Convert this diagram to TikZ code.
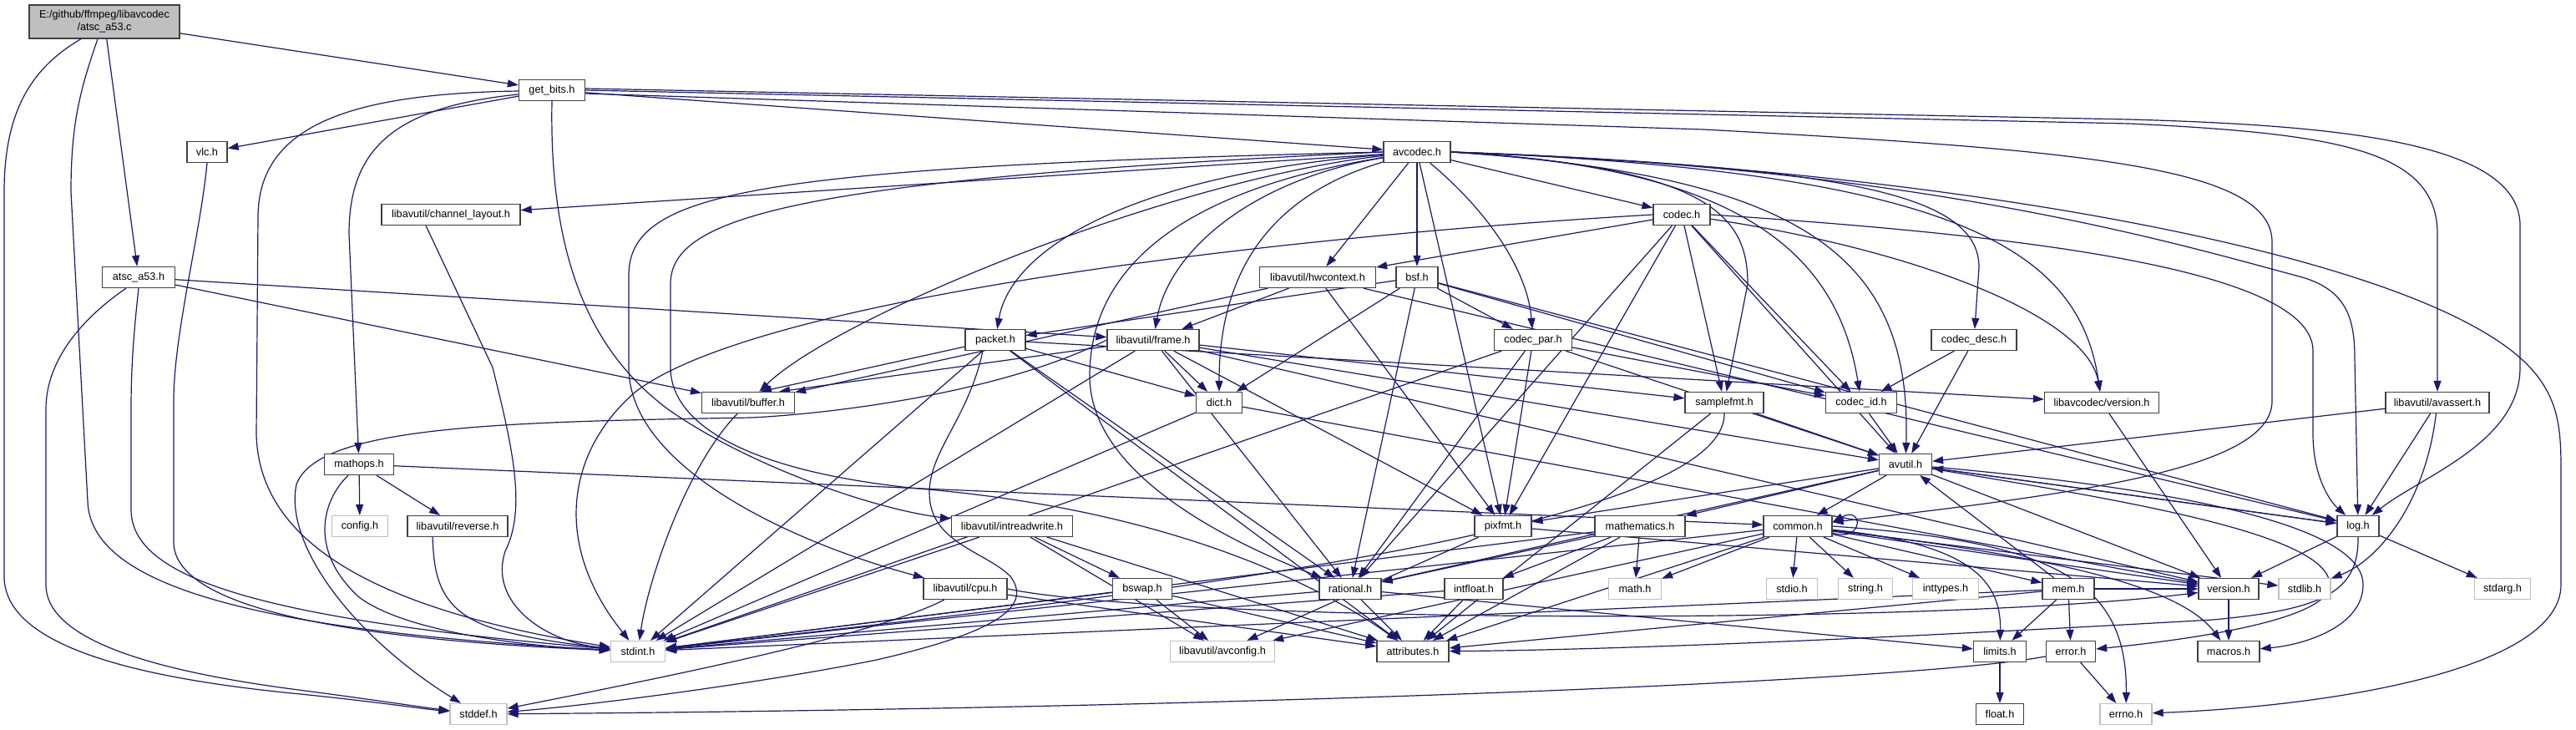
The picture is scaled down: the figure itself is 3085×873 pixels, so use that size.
\documentclass[tikz,border=0pt]{standalone}
\usepackage{fontspec}
\setmainfont{Liberation Sans}
\usetikzlibrary{arrows.meta}
\pgfdeclarelayer{bg}
\pgfsetlayers{bg,main}
\definecolor{edgecol}{HTML}{191970}
\definecolor{bord}{HTML}{404040}
\definecolor{gbord}{HTML}{BFBFBF}
\definecolor{rootfill}{HTML}{BFBFBF}
\newcommand\mknode[5][nd]{\node[#1,minimum width=#4pt] (#2) at (#3) {#5};}
\begin{document}
\begin{tikzpicture}[x=1pt,y=-1pt,
  nd/.style={draw=bord, fill=white, line width=1.25pt, minimum height=25pt, inner sep=0pt, font=\fontsize{12.7}{15}\selectfont},
  gn/.style={nd, draw=gbord},
  rn/.style={nd, fill=rootfill, minimum height=40pt, align=center},
  e/.style={draw=edgecol, line width=1.2pt, -{Triangle[length=13pt,width=9pt]}},
]
\begin{pgfonlayer}{bg}
\fill[white] (0,0) rectangle (3085,873);
\end{pgfonlayer}
\useasboundingbox (0,0) rectangle (3085,873);

\mknode[rn]{root}{125,26}{180}{E:/github/ffmpeg/libavcodec\\/atsc\_a53.c}
\mknode{getbits}{661,108}{79}{get\_bits.h}
\mknode{vlc}{248,182}{48}{vlc.h}
\mknode{avcodec}{1697,182}{80}{avcodec.h}
\mknode{chlayout}{540,257}{166}{libavutil/channel\_layout.h}
\mknode{codec}{2014,257}{68}{codec.h}
\mknode{atsch}{166,332}{87}{atsc\_a53.h}
\mknode{hwctx}{1578,332}{139}{libavutil/hwcontext.h}
\mknode{bsf}{1697,332}{50}{bsf.h}
\mknode{packet}{1192,407}{72}{packet.h}
\mknode{frame}{1381,407}{110}{libavutil/frame.h}
\mknode{codecpar}{1836,407}{93}{codec\_par.h}
\mknode{codecdesc}{2364,407}{102}{codec\_desc.h}
\mknode{buffer}{896,482}{111}{libavutil/buffer.h}
\mknode{dict}{1460,482}{55}{dict.h}
\mknode{samplefmt}{2065,482}{94}{samplefmt.h}
\mknode{codecid}{2229,482}{85}{codec\_id.h}
\mknode{lcversion}{2517,482}{137}{libavcodec/version.h}
\mknode{avassert}{2919,482}{124}{libavutil/avassert.h}
\mknode{mathops}{430,556}{83}{mathops.h}
\mknode{avutil}{2282,556}{63}{avutil.h}
\mknode[gn]{config}{431,630}{67}{config.h}
\mknode{reverse}{548,630}{120}{libavutil/reverse.h}
\mknode{intreadwrite}{1212,630}{145}{libavutil/intreadwrite.h}
\mknode{pixfmt}{1800,630}{68}{pixfmt.h}
\mknode{mathematics}{1964,630}{108}{mathematics.h}
\mknode{common}{2153,630}{82}{common.h}
\mknode{logh}{2824,630}{50}{log.h}
\mknode{cpu}{1156,705}{100}{libavutil/cpu.h}
\mknode{bswap}{1368,705}{71}{bswap.h}
\mknode{rational}{1617,705}{74}{rational.h}
\mknode{intfloat}{1765,705}{70}{intfloat.h}
\mknode[gn]{math}{1958,705}{63}{math.h}
\mknode[gn]{stdio}{2146,705}{61}{stdio.h}
\mknode[gn]{string}{2234,705}{65}{string.h}
\mknode[gn]{inttypes}{2330,705}{79}{inttypes.h}
\mknode{mem}{2477,705}{62}{mem.h}
\mknode{version}{2669,705}{72}{version.h}
\mknode[gn]{stdlib}{2760,705}{62}{stdlib.h}
\mknode[gn]{stdarg}{2997,705}{67}{stdarg.h}
\mknode[gn]{stdint}{764,780}{65}{stdint.h}
\mknode[gn]{avconfig}{1464,780}{125}{libavutil/avconfig.h}
\mknode{attributes}{1692,780}{86}{attributes.h}
\mknode{limits}{2395,780}{63}{limits.h}
\mknode{error}{2480,780}{59}{error.h}
\mknode{macros}{2669,780}{74}{macros.h}
\mknode[gn]{stddef}{573,855}{68}{stddef.h}
\mknode{float}{2395,855}{57}{float.h}
\mknode[gn]{errno}{2546,855}{62}{errno.h}

\begin{pgfonlayer}{bg}
% root
\draw[e] (root) -- (getbits);
\draw[e] (root) -- (atsch);
\draw[e] ([xshift=-8pt]root.south) .. controls (95,110) and (85,150) .. (85,230) -- (105,600) .. controls (108,700) and (300,755) .. (stdint);
\draw[e] ([xshift=-28pt]root.south) .. controls (40,80) and (5,130) .. (5,230) -- (5,690) .. controls (5,770) and (150,810) .. (350,830) .. controls (450,840) and (500,848) .. (stddef);
% atsc_a53.h
\draw[e] ([xshift=-15pt]atsch.south) .. controls (100,380) and (55,430) .. (55,490) -- (55,700) .. controls (55,770) and (200,805) .. (350,825) .. controls (450,838) and (500,846) .. (stddef);
\draw[e] (atsch.south) .. controls (160,400) and (157,440) .. (157,490) -- (157,610) .. controls (157,690) and (300,740) .. (stdint);
\draw[e] (atsch) -- (frame);
\draw[e] (atsch) -- (buffer);
% get_bits.h
\draw[e] (getbits) -- (vlc);
\draw[e] (getbits) -- (avcodec);
\draw[e] ([yshift=-5pt]getbits.west) .. controls (470,128) and (418,180) .. (418,280) -- (mathops);
\draw[e] ([yshift=-1pt]getbits.west) .. controls (420,112) and (309,150) .. (309,260) -- (307,520) .. controls (310,650) and (450,730) .. (stdint);
\draw[e] (getbits.south) .. controls (657,330) and (720,430) .. (800,490) .. controls (900,560) and (1050,610) .. (intreadwrite);
\draw[e] ([yshift=-4pt]getbits.east) -- (2040,155) .. controls (2500,180) and (2721,200) .. (2721,290) -- (2721,480) .. controls (2721,560) and (2500,590) .. (common);
\draw[e] ([yshift=2pt]getbits.east) -- (2550,143) .. controls (2800,150) and (3018,170) .. (3018,270) -- (3018,440) .. controls (3018,530) and (2900,570) .. (logh);
\draw[e] ([yshift=0pt]getbits.east) -- (2550,148) .. controls (2800,160) and (2919,180) .. (2919,280) -- (avassert);
% vlc.h
\draw[e] (vlc.south) .. controls (240,280) and (208,400) .. (208,480) -- (208,650) .. controls (210,725) and (400,765) .. (stdint);
% channel_layout.h
\draw[e] ([xshift=-30pt]chlayout.south) -- (590,440) .. controls (615,540) and (630,610) .. (605,660) .. controls (585,720) and (650,768) .. (stdint);
% mathops.h
\draw[e] (mathops) -- (config);
\draw[e] (mathops) -- (reverse);
\draw[e] ([xshift=-13pt]mathops.south) .. controls (385,600) and (370,660) .. (430,715) .. controls (490,760) and (650,775) .. (stdint);
\draw[e] (mathops) -- (common);
% reverse.h
\draw[e] ([xshift=-30pt]reverse.south) .. controls (520,690) and (525,735) .. (600,755) .. controls (650,768) and (700,773) .. (stdint);
% buffer.h
\draw[e] (buffer) .. controls (820,560) and (775,700) .. (stdint);
% packet.h
\draw[e] (packet) -- ([xshift=15pt]buffer.north);
\draw[e] (packet) -- (stdint);
\draw[e] (packet) -- (dict);
\draw[e] (packet) -- (rational);
\draw[e] (packet) -- (attributes);
\draw[e] (packet) -- (lcversion);
\draw[e] ([xshift=-15pt]packet.south) .. controls (1160,500) and (1113,540) .. (1113,590) .. controls (1113,650) and (1180,660) .. (1210,690) .. controls (1240,730) and (1180,760) .. (1050,790) .. controls (900,820) and (700,845) .. (stddef);
% frame.h
\draw[e] (frame) -- ([xshift=37pt]buffer.north);
\draw[e] (frame) -- (stdint);
\draw[e] (frame) -- (dict);
\draw[e] (frame) -- (rational);
\draw[e] (frame) -- (samplefmt);
\draw[e] (frame) -- (pixfmt);
\draw[e] (frame) -- (avutil);
\draw[e] (frame) -- (version);
\draw[e] (frame.west) .. controls (1200,470) and (1000,495) .. (900,500) .. controls (600,505) and (380,510) .. (355,580) .. controls (340,650) and (420,760) .. (stddef);
% hwcontext.h
\draw[e] (hwctx) -- (frame);
\draw[e] (hwctx) -- (buffer);
\draw[e] (hwctx) -- (pixfmt);
\draw[e] (hwctx) -- (logh);
% bsf.h
\draw[e] (bsf) -- (codecpar);
\draw[e] (bsf) -- (packet);
\draw[e] (bsf) -- (dict);
\draw[e] (bsf) -- (rational);
\draw[e] (bsf) -- (codecid);
\draw[e] (bsf) -- (logh);
% codec.h
\draw[e] (codec) -- (hwctx);
\draw[e] (codec.west) .. controls (1500,285) and (900,360) .. (760,470) .. controls (680,540) and (660,650) .. (stdint);
\draw[e] (codec) -- (avutil);
\draw[e] (codec.east) .. controls (2400,280) and (2770,320) .. (2770,420) -- (2770,520) .. controls (2770,570) and (2790,600) .. (logh);
\draw[e] (codec) -- (pixfmt);
\draw[e] (codec) -- (rational);
\draw[e] (codec) -- (samplefmt);
\draw[e] (codec) -- (codecid);
\draw[e] (codec) .. controls (2300,300) and (2500,380) .. (lcversion);
% codec_par.h
\draw[e] (codecpar) -- (stdint);
\draw[e] (codecpar) -- (pixfmt);
\draw[e] (codecpar) -- (rational);
\draw[e] (codecpar) -- (avutil);
\draw[e] (codecpar) -- (codecid);
% codec_desc.h
\draw[e] (codecdesc) -- (codecid);
\draw[e] (codecdesc) -- (avutil);
% samplefmt.h
\draw[e] (samplefmt) -- (avutil);
\draw[e] (samplefmt.south) .. controls (2066,640) and (1300,720) .. (stdint);
\draw[e] (samplefmt) -- (attributes);
% codec_id.h, libavcodec/version.h
\draw[e] (codecid) -- (avutil);
\draw[e] (lcversion) -- (version);
% avassert.h
\draw[e] (avassert) -- (logh);
\draw[e] (avassert) .. controls (2905,600) and (2850,670) .. (stdlib);
\draw[e] (avassert) -- (avutil);
% avutil.h
\draw[e] (avutil) -- (common);
\draw[e] (avutil) -- (logh);
\draw[e] (avutil) -- (version);
\draw[e] (avutil) .. controls (2550,580) and (2830,620) .. (2830,700) .. controls (2830,750) and (2760,772) .. (macros);
\draw[e] (avutil) .. controls (2550,600) and (2790,640) .. (2790,700) .. controls (2790,745) and (2600,768) .. (error);
\draw[e] (avutil) -- (mathematics);
\draw[e] (avutil) -- (pixfmt);
\draw[e] (avutil) -- (rational);
% pixfmt.h
\draw[e] (pixfmt) -- (avconfig);
\draw[e] (pixfmt) -- (version);
% mathematics.h
\draw[e] (mathematics) -- (math);
\draw[e] (mathematics) -- (intfloat);
\draw[e] (mathematics) -- (rational);
\draw[e] (mathematics) -- (attributes);
\draw[e] (mathematics) -- (stdint);
% common.h
\draw[e] ([yshift=-8pt]common.east) .. controls (2232,650) and (2232,605) .. ([yshift=5pt]common.east);
\draw[e] (common) -- (stdio);
\draw[e] (common) -- (string);
\draw[e] (common) -- (inttypes);
\draw[e] (common) -- (mem);
\draw[e] (common) .. controls (2350,650) and (2397,690) .. (limits);
\draw[e] (common) -- (math);
\draw[e] (common) -- (stdint);
\draw[e] (common) -- (attributes);
\draw[e] (common) -- (avconfig);
\draw[e] (common.east) .. controls (2450,648) and (2548,690) .. (errno);
\draw[e] (common) -- (stdlib);
\draw[e] (common) -- (version);
\draw[e] (common) .. controls (2450,665) and (2610,700) .. (macros);
% log.h
\draw[e] (logh) -- (stdarg);
\draw[e] (logh) -- (version);
\draw[e] (logh.south) .. controls (2825,710) and (2780,730) .. (2650,742) .. controls (2300,762) and (1950,778) .. (attributes);
\draw[e] (logh) -- (avutil);
% intreadwrite.h
\draw[e] (intreadwrite) -- (bswap);
\draw[e] (intreadwrite) -- (avconfig);
\draw[e] (intreadwrite) -- (attributes);
\draw[e] (intreadwrite) -- (stdint);
% cpu.h
\draw[e] (cpu) -- (attributes);
\draw[e] (cpu.east) .. controls (1400,745) and (2300,750) .. (version);
\draw[e] (cpu) .. controls (1050,760) and (800,810) .. (stddef);
% bswap.h
\draw[e] (bswap) -- (avconfig);
\draw[e] (bswap) -- (attributes);
\draw[e] (bswap) -- (stdint);
% rational.h
\draw[e] (rational) -- (attributes);
\draw[e] (rational) -- (limits);
\draw[e] (rational) -- (stdint);
% intfloat.h
\draw[e] (intfloat) -- (attributes);
\draw[e] (intfloat) -- (stdint);
% mem.h
\draw[e] (mem) -- (limits);
\draw[e] (mem) -- (error);
\draw[e] (mem) -- (avutil);
\draw[e] (mem) -- (attributes);
\draw[e] (mem) -- (stdint);
\draw[e] (mem) -- (version);
% error.h
\draw[e] (error) -- (errno);
\draw[e] (error) .. controls (2300,815) and (1500,848) .. (stddef);
% version.h, limits.h
\draw[e] (version) -- (macros);
\draw[e] (limits) -- (float);
% dict.h
\draw[e] (dict) -- (stdint);
\draw[e] (dict) -- (version);
% avcodec.h
\draw[e] (avcodec) -- (chlayout);
\draw[e] (avcodec) .. controls (1400,215) and (1000,380) .. (buffer);
\draw[e] (avcodec) .. controls (1500,215) and (1400,300) .. (frame);
\draw[e] (avcodec) .. controls (1350,210) and (1210,300) .. (packet);
\draw[e] (avcodec) .. controls (1500,240) and (1460,350) .. (dict);
\draw[e] (avcodec.west) .. controls (900,200) and (753,230) .. (753,330) -- (753,440) .. controls (753,560) and (950,650) .. (cpu);
\draw[e] (avcodec) .. controls (1400,230) and (1305,330) .. (1305,450) .. controls (1305,560) and (1450,640) .. (rational);
\draw[e] (avcodec.west) .. controls (950,215) and (803,260) .. (803,340) -- (803,440) .. controls (803,510) and (900,565) .. (1100,585) .. controls (1400,610) and (1580,700) .. (attributes);
\draw[e] (avcodec) -- (hwctx);
\draw[e] (avcodec) -- (bsf);
\draw[e] (avcodec) -- (codec);
\draw[e] (avcodec) .. controls (1790,260) and (1830,330) .. (codecpar);
\draw[e] (avcodec) -- (pixfmt);
\draw[e] (avcodec.east) .. controls (2200,200) and (2370,230) .. (2370,320) -- (codecdesc);
\draw[e] (avcodec.east) .. controls (2050,200) and (2093,260) .. (2093,340) -- (samplefmt);
\draw[e] (avcodec.east) .. controls (2080,200) and (2200,300) .. (codecid);
\draw[e] (avcodec.east) .. controls (2150,210) and (2290,300) .. (avutil);
\draw[e] (avcodec.east) .. controls (2300,200) and (2600,290) .. (2750,330) .. controls (2810,345) and (2820,380) .. (2820,430) -- (logh);
\draw[e] (avcodec.east) .. controls (2350,205) and (2490,300) .. (lcversion);
\draw[e] (avcodec.east) .. controls (2300,200) and (2900,300) .. (3030,440) .. controls (3067,480) and (3067,520) .. (3067,570) -- (3067,700) .. controls (3067,800) and (2800,845) .. (errno);
\end{pgfonlayer}
\end{tikzpicture}
\end{document}
